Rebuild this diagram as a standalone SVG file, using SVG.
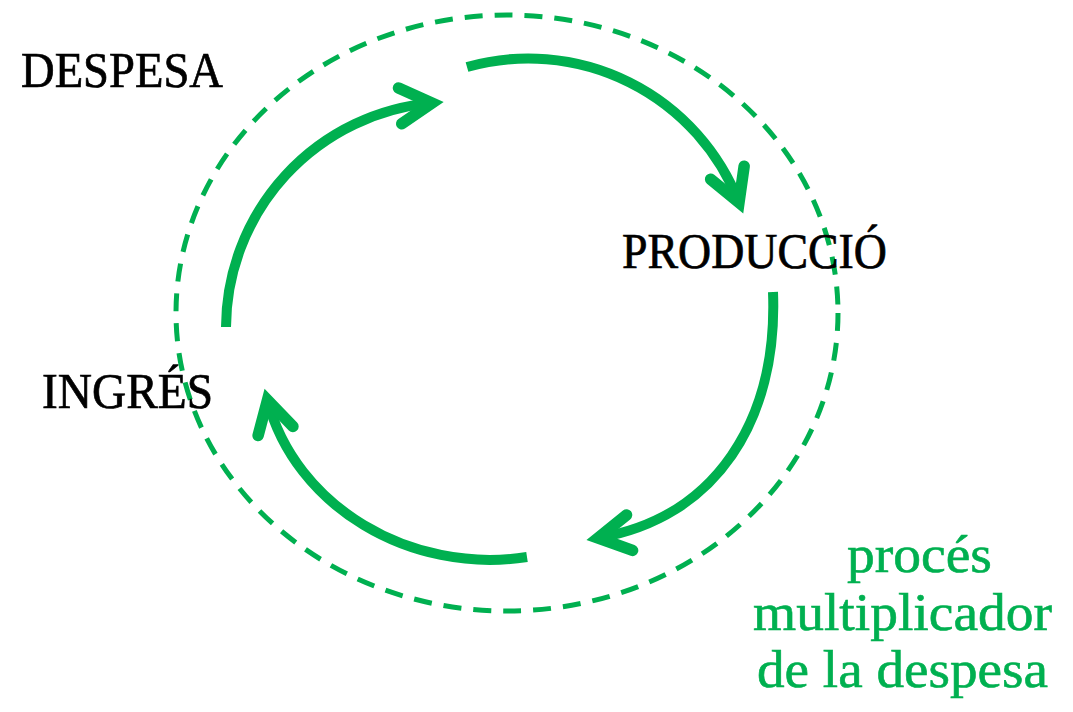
<svg xmlns="http://www.w3.org/2000/svg" width="1073" height="712" viewBox="0 0 1073 712">
  <style>
    .arc { fill: none; stroke: #00B050; stroke-width: 10; stroke-linecap: butt; marker-end: url(#head); }
    .dash { fill: none; stroke: #00B050; stroke-width: 5; stroke-dasharray: 18 12; }
    .lbl { font-family: "Liberation Serif", "Times New Roman", serif; font-size: 50px; fill: #000000; stroke: #000000; stroke-width: 0.7px; }
    .note { font-family: "Liberation Serif", "Times New Roman", serif; font-size: 53px; fill: #00B050; stroke: #00B050; stroke-width: 0.6px; }
  </style>
  <defs>
    <marker id="head" markerUnits="userSpaceOnUse" markerWidth="80" markerHeight="80" refX="0" refY="0" orient="auto" overflow="visible" viewBox="-50 -40 80 80">
      <path d="M-32,-18 L0,0 L-32,18" fill="none" stroke="#00B050" stroke-width="11.5" stroke-linecap="round" stroke-linejoin="miter" stroke-miterlimit="6"/>
    </marker>
  </defs>
  <rect width="1073" height="712" fill="#ffffff"/>
  <g id="cycle-boundary">
    <ellipse class="dash" cx="507" cy="313" rx="331" ry="298"/>
  </g>
  <g id="connectors">
    <path id="ingres-despesa" class="arc" d="M226,327 A226,226 0 0 1 432,103"/>
    <path id="despesa-produccio" class="arc" d="M467,67 A226,226 0 0 1 739,202.5"/>
    <path id="produccio-ingres" class="arc" d="M773,292 C778,420 716,518 598,538"/>
    <path id="ingres-return" class="arc" d="M527,557 C410,575 295,506 267.5,400"/>
  </g>
  <g id="node-despesa">
    <text class="lbl" x="21" y="87" textLength="202" lengthAdjust="spacingAndGlyphs">DESPESA</text>
  </g>
  <g id="node-produccio">
    <text class="lbl" x="622" y="268" textLength="265" lengthAdjust="spacingAndGlyphs">PRODUCCIÓ</text>
  </g>
  <g id="node-ingres">
    <text class="lbl" x="42" y="408" textLength="171" lengthAdjust="spacingAndGlyphs">INGRÉS</text>
  </g>
  <g id="label-multiplicador">
    <text class="note" x="847" y="572" textLength="145" lengthAdjust="spacingAndGlyphs">procés</text>
    <text class="note" x="753" y="630" textLength="299" lengthAdjust="spacingAndGlyphs">multiplicador</text>
    <text class="note" x="757" y="687" textLength="291" lengthAdjust="spacingAndGlyphs">de la despesa</text>
  </g>
</svg>
